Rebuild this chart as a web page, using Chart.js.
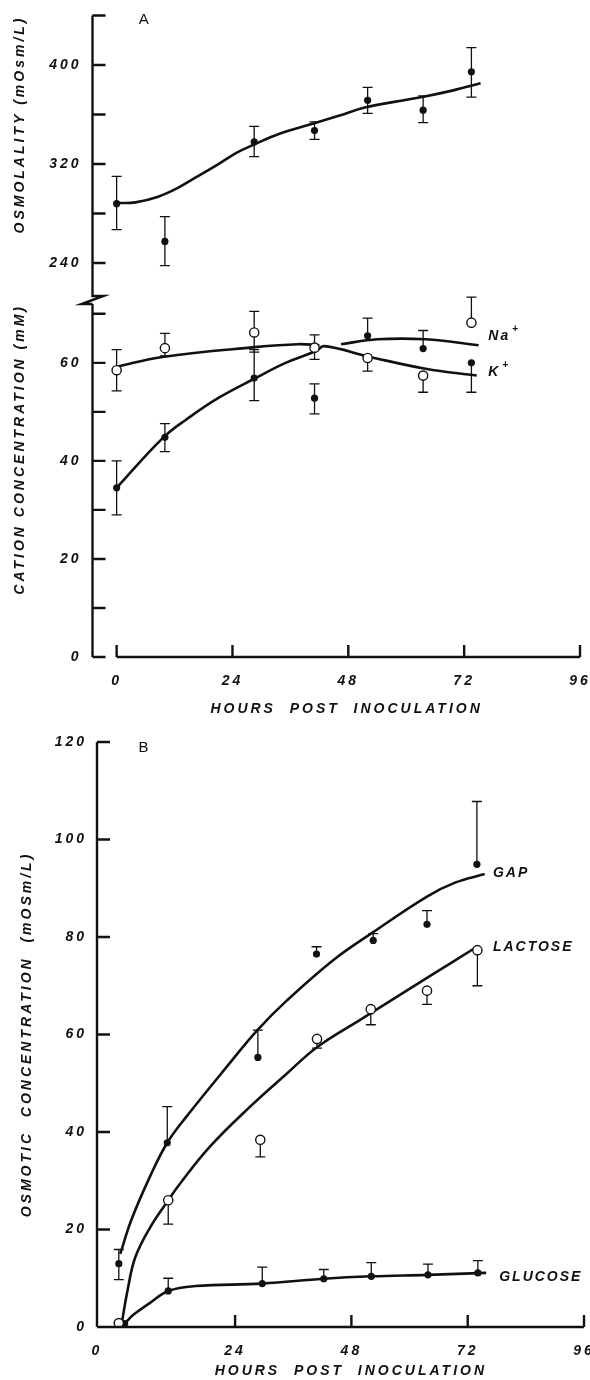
<!DOCTYPE html>
<html lang="en">
<head>
<meta charset="utf-8" />
<title>Osmolality, cations and osmotic concentration</title>
<script src="https://cdn.jsdelivr.net/npm/chart.js@4.4.1/dist/chart.umd.min.js"></script>
<style>
  body { margin: 0; background: #fff; }
  #page { position: relative; width: 590px; height: 1380px; overflow: hidden; }
  canvas { position: absolute; left: 0; }
</style>
</head>
<body>
<div id="page">
  <canvas id="osmo" width="590" height="300" style="top:0"></canvas>
  <canvas id="cation" width="590" height="455" style="top:290px"></canvas>
  <canvas id="osmotic" width="590" height="655" style="top:725px"></canvas>
</div>

<script>
// ---- panel A, osmolality ----
const hoursA = [0, 10, 28.5, 41, 52, 63.5, 73.5];
const osmolality = [288, 257.5, 338, 347, 371.5, 363.5, 394.5];
const osmolalityHi = [310, 277.5, 350.5, 354, 382, 375, 414];
const osmolalityLo = [267, 238, 326, 340, 361, 353.5, 374];
const osmoFitHours = [0, 3.9, 8.6, 12.5, 16.4, 21.1, 25, 28.6, 33.6, 41.3, 46, 51.6, 57.8, 63.6, 69.5, 75.4];
const osmoFit = [288.5, 289, 293.6, 300.3, 309.2, 320, 329.4, 336, 344.3, 353.4, 359, 365.8, 370.4, 374.4, 379.3, 385.2];
const osmoTickMarks = [240, 280, 320, 360, 400, 440];
const osmoTickLabels = [240, 320, 400];

// ---- panel A, cations ----
const sodium = [58.5, 63, 66.2, 63.1, 61, 57.4, 68.2];
const sodiumHi = [62.7, 66, 70.5, 65.7, null, null, 73.4];
const sodiumLo = [54.3, 61.4, 62.2, 60.7, 58.3, 54, null];
const potassium = [34.5, 44.8, 56.9, 52.8, 65.5, 62.9, 60];
const potassiumHi = [40, 47.6, 62.7, 55.7, 69.1, 66.6, null];
const potassiumLo = [29, 41.9, 52.3, 49.6, null, null, 54];
const naFitHours = [0, 9.5, 28.6, 37.5, 42, 44, 46.5, 54, 64, 75];
const naFit = [59.2, 61.2, 63.2, 63.8, 63.6, null, 63.8, 64.8, 64.8, 63.6];
const kFitHours = [0, 9.6, 14.8, 21, 28.6, 35, 41.3, 43, 52.5, 64, 74.6];
const kFit = [34.5, 44.7, 48.7, 52.8, 56.8, 60, 62.4, 63.4, 61.2, 58.8, 57.4];
const cationTickMarks = [0, 10, 20, 30, 40, 50, 60, 70];
const cationTickLabels = [0, 20, 40, 60];

// ---- panel B, osmotic concentration ----
const gapHours = [0, 10, 28.7, 40.8, 52.5, 63.6, 73.9];
const gap = [13, 37.8, 55.3, 76.5, 79.3, 82.6, 94.9];
const gapHi = [15.9, 45.2, 60.9, 78, 80.7, 85.4, 107.8];
const gapLo = [9.7, null, null, null, null, null, null];
const lactoseHours = [0, 10.2, 29.2, 40.9, 52, 63.6, 74];
const lactose = [0.8, 26, 38.4, 59.1, 65.2, 69, 77.3];
const lactoseLo = [null, 21.1, 34.9, 57.2, 62, 66.2, 70];
const glucoseHours = [1.2, 10.2, 29.6, 42.3, 52.1, 63.8, 74.1];
const glucose = [0.7, 7.4, 8.9, 9.9, 10.4, 10.7, 11.1];
const glucoseHi = [null, 10, 12.3, 11.8, 13.2, 12.9, 13.6];
const gapFitHours = [0.3, 2.6, 6.5, 10, 14, 22.3, 28.6, 34.7, 44.3, 52.5, 63.6, 69.5, 75.5];
const gapFit = [15, 22, 31, 37.8, 43.2, 53.4, 60.9, 67, 75.3, 81, 88.3, 91.2, 92.9];
const lactoseFitHours = [0.6, 1.8, 3.4, 6.5, 10.2, 12.7, 18.8, 27.1, 34.7, 40.9, 49.8, 63.6, 73.9];
const lactoseFit = [0.7, 7.5, 14.3, 20.5, 26, 29.5, 37, 45.2, 52, 57.4, 63, 71.6, 78];
const glucoseFitHours = [1.2, 3, 6.5, 10.2, 15.8, 29.6, 42.3, 52.1, 63.8, 75.8];
const glucoseFit = [0.7, 2.5, 5, 7.4, 8.4, 8.9, 9.9, 10.4, 10.7, 11.1];
const osmoticTicks = [0, 20, 40, 60, 80, 100, 120];

const hourTicks = [0, 24, 48, 72, 96];

const INK = '#111';
Chart.defaults.font.family = "'Liberation Sans', Arial, sans-serif";
Chart.defaults.color = INK;
const typeFont = { size: 14, style: 'italic', weight: 'bold' };

function pts(xs, ys) {
  return xs.map((x, i) => ({ x: x, y: ys[i] }));
}

function dots(xs, ys, hi, lo, open) {
  return {
    data: pts(xs, ys), errHi: hi, errLo: lo, showLine: false,
    pointRadius: open ? 4.6 : 3.6,
    pointBackgroundColor: open ? '#fff' : INK,
    pointBorderColor: INK, pointBorderWidth: open ? 1.4 : 0
  };
}

function curve(xs, ys) {
  return {
    data: pts(xs, ys), showLine: true, pointRadius: 0,
    borderColor: INK, borderWidth: 2.6, tension: 0.4, spanGaps: false
  };
}

// error bars under the marks
const errorBars = {
  id: 'errorBars',
  beforeDatasetsDraw(chart) {
    const { ctx, scales: { x, y } } = chart;
    ctx.save();
    ctx.strokeStyle = INK;
    ctx.lineWidth = 1.3;
    chart.data.datasets.forEach(ds => {
      [ds.errHi, ds.errLo].forEach(ends => {
        if (!ends) return;
        ds.data.forEach((p, i) => {
          if (ends[i] == null) return;
          const px = x.getPixelForValue(p.x);
          const py = y.getPixelForValue(p.y);
          const pe = y.getPixelForValue(ends[i]);
          ctx.beginPath();
          ctx.moveTo(px, py); ctx.lineTo(px, pe);
          ctx.moveTo(px - 5, pe); ctx.lineTo(px + 5, pe);
          ctx.stroke();
        });
      });
    });
    ctx.restore();
  }
};

// old style axes: inward ticks, detached hour axis, labels
const frame = {
  id: 'frame',
  beforeDraw(chart) {
    chart.ctx.letterSpacing = '3px';
  },
  afterDraw(chart, args, o) {
    const { ctx, chartArea: a, scales: { x, y } } = chart;
    ctx.save();
    ctx.strokeStyle = INK;
    ctx.lineWidth = 2.4;
    ctx.beginPath();
    ctx.moveTo(a.left, a.top); ctx.lineTo(a.left, a.bottom);
    o.yMarks.forEach(v => {
      const py = y.getPixelForValue(v);
      ctx.moveTo(a.left, py); ctx.lineTo(a.left + 13, py);
    });
    if (o.xMarks) {
      const x0 = o.xFromAxis ? a.left : x.getPixelForValue(o.xMarks[0]);
      ctx.moveTo(x0, a.bottom); ctx.lineTo(x.getPixelForValue(x.max), a.bottom);
      o.xMarks.forEach(v => {
        const px = x.getPixelForValue(v);
        ctx.moveTo(px, a.bottom); ctx.lineTo(px, a.bottom - 12);
      });
    }
    if (o.axisBreak) {
      ctx.moveTo(a.left, a.top - 10); ctx.lineTo(a.left, a.top - 8);
      ctx.lineTo(a.left + 11, a.top - 8);
      ctx.lineTo(a.left - 11, a.top);
      ctx.lineTo(a.left, a.top);
    }
    ctx.stroke();

    ctx.fillStyle = INK;
    ctx.textBaseline = 'middle';
    (o.notes || []).forEach(n => {
      ctx.letterSpacing = n.plain ? '0px' : '2px';
      ctx.font = n.plain ? '15px "Liberation Sans", Arial, sans-serif'
                         : 'italic bold 14px "Liberation Sans", Arial, sans-serif';
      ctx.textAlign = n.align || 'left';
      const px = x.getPixelForValue(n.x);
      const py = y.getPixelForValue(n.y);
      ctx.fillText(n.text, px, py);
      if (n.sup) {
        const w = ctx.measureText(n.text).width;
        ctx.font = 'bold 10px "Liberation Sans", Arial, sans-serif';
        ctx.fillText(n.sup, px + w + 2, py - 7);
      }
    });
    ctx.restore();
  }
};

function fixWidth(w) {
  return function (scale) {
    scale.width = w;
    scale.paddingTop = scale.paddingBottom = scale.paddingLeft = scale.paddingRight = 0;
  };
}
function fixHeight(h) {
  return function (scale) {
    scale.height = h;
    scale.paddingTop = scale.paddingBottom = scale.paddingLeft = scale.paddingRight = 0;
  };
}
function setTicks(values) {
  return function (scale) { scale.ticks = values.map(v => ({ value: v })); };
}
function pickLabels(shown) {
  return function (value) { return shown.includes(value) ? String(value) : ''; };
}

function yScale(min, max, marks, shown, title, width, titlePad, align, labelPad) {
  return {
    type: 'linear', min: min, max: max,
    grid: { display: false }, border: { display: false },
    afterBuildTicks: setTicks(marks),
    afterFit: fixWidth(width),
    ticks: { font: typeFont, padding: labelPad, autoSkip: false, callback: pickLabels(shown) },
    title: { display: true, text: title, font: typeFont, align: align, padding: { top: titlePad, bottom: 0 } }
  };
}

function baseOptions(pad, scales, frameOpts) {
  return {
    responsive: false, animation: false, devicePixelRatio: 1,
    layout: { padding: pad },
    plugins: { legend: { display: false }, tooltip: { enabled: false }, frame: frameOpts },
    scales: scales
  };
}

// leading spaces nudge the centred title right, as in the print
const hoursTitle = '   HOURS  POST  INOCULATION';

// ---- A: osmolality ----
new Chart(document.getElementById('osmo'), {
  type: 'scatter',
  data: {
    datasets: [
      dots(hoursA, osmolality, osmolalityHi, osmolalityLo, false),
      curve(osmoFitHours, osmoFit)
    ]
  },
  options: baseOptions({ top: 15.5, right: 10, bottom: 6, left: 0 }, {
    x: { type: 'linear', min: -5, max: 96, display: false },
    y: yScale(215, 440, osmoTickMarks, osmoTickLabels, 'OSMOLALITY (mOsm/L)', 92.5, 11.6, 'end', 3)
  }, {
    yMarks: osmoTickMarks,
    notes: [{ text: 'A', x: 5.6, y: 436.4, plain: true, align: 'center' }]
  }),
  plugins: [errorBars, frame]
});

// ---- A: cations ----
new Chart(document.getElementById('cation'), {
  type: 'scatter',
  data: {
    datasets: [
      dots(hoursA, sodium, sodiumHi, sodiumLo, true),
      dots(hoursA, potassium, potassiumHi, potassiumLo, false),
      curve(naFitHours, naFit),
      curve(kFitHours, kFit)
    ]
  },
  options: baseOptions({ top: 14, right: 10, bottom: 0, left: 0 }, {
    x: {
      type: 'linear', min: -5, max: 96,
      grid: { display: false }, border: { display: false },
      afterBuildTicks: setTicks(hourTicks),
      afterFit: fixHeight(88),
      ticks: { font: typeFont, padding: 8, autoSkip: false, maxRotation: 0 },
      title: { display: true, text: hoursTitle, font: typeFont, padding: { top: 0, bottom: 27.6 } }
    },
    y: yScale(0, 72, cationTickMarks, cationTickLabels, 'CATION CONCENTRATION (mM)', 92.5, 11.6, 'end', 3)
  }, {
    yMarks: cationTickMarks,
    xMarks: hourTicks,
    axisBreak: true,
    notes: [
      { text: 'Na', sup: '+', x: 77, y: 65.5 },
      { text: 'K', sup: '+', x: 77, y: 58 }
    ]
  }),
  plugins: [errorBars, frame]
});

// ---- B: osmotic concentration ----
new Chart(document.getElementById('osmotic'), {
  type: 'scatter',
  data: {
    datasets: [
      dots(gapHours, gap, gapHi, gapLo, false),
      dots(lactoseHours, lactose, null, lactoseLo, true),
      dots(glucoseHours, glucose, glucoseHi, null, false),
      curve(gapFitHours, gapFit),
      curve(lactoseFitHours, lactoseFit),
      curve(glucoseFitHours, glucoseFit)
    ]
  },
  options: baseOptions({ top: 17, right: 6, bottom: 0, left: 0 }, {
    x: {
      type: 'linear', min: -4.5, max: 96,
      grid: { display: false }, border: { display: false },
      // the "0" sits at the corner of the frame in the original
      afterBuildTicks: function (scale) {
        scale.ticks = hourTicks.map(v => ({ value: v === 0 ? scale.min : v }));
      },
      afterFit: fixHeight(53),
      ticks: { font: typeFont, padding: 8, autoSkip: false, maxRotation: 0,
               callback: function (value, i) { return String(hourTicks[i]); } },
      title: { display: true, text: hoursTitle, font: typeFont, padding: { top: 0, bottom: 0 } }
    },
    y: yScale(0, 120, osmoticTicks, osmoticTicks, 'OSMOTIC  CONCENTRATION  (mOSm/L)', 97, 18.6, 'center', 2)
  }, {
    yMarks: osmoticTicks,
    xMarks: hourTicks.slice(1),
    xFromAxis: true,
    notes: [
      { text: 'B', x: 5.1, y: 118.9, plain: true, align: 'center' },
      { text: 'GAP', x: 77.2, y: 93.1 },
      { text: 'LACTOSE', x: 77.2, y: 77.9 },
      { text: 'GLUCOSE', x: 78.5, y: 10.3 }
    ]
  }),
  plugins: [errorBars, frame]
});
</script>
</body>
</html>
